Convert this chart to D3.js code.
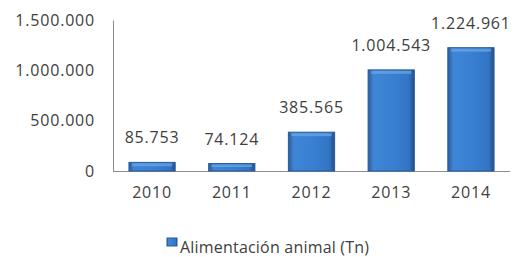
<!DOCTYPE html>
<html>
<head>
<meta charset="utf-8"/>
<script src="https://d3js.org/d3.v7.min.js"></script>
<style>
body { margin: 0; background: #fff; }
text { font-family: "Open Sans", sans-serif; fill: #404040; }
</style>
</head>
<body>
<script>
// chart data
var years = ["2010", "2011", "2012", "2013", "2014"];
var values = [85753, 74124, 385565, 1004543, 1224961];
var yTicks = [0, 500000, 1000000, 1500000];
var seriesName = "Alimentación animal (Tn)";

var width = 513,
    height = 257,
    margin = {top: 20, right: 3, bottom: 86, left: 113};

var fmt = d3.formatLocale({decimal: ",", thousands: ".", grouping: [3], currency: ["", ""]}).format(",d");

var svg = d3.select("body").append("svg")
    .attr("width", width)
    .attr("height", height);

var defs = svg.append("defs");
var grad = defs.append("linearGradient")
    .attr("id", "barGrad")
    .attr("x1", "0%").attr("x2", "100%")
    .attr("y1", "0%").attr("y2", "0%");
grad.append("stop").attr("offset", "0%").attr("stop-color", "#2a5c9e");
grad.append("stop").attr("offset", "12%").attr("stop-color", "#3f86d6");
grad.append("stop").attr("offset", "50%").attr("stop-color", "#3a80d2");
grad.append("stop").attr("offset", "88%").attr("stop-color", "#3275c4");
grad.append("stop").attr("offset", "100%").attr("stop-color", "#234f8c");

var x = d3.scaleBand()
    .domain(years)
    .range([margin.left, width - margin.right])
    .paddingInner(0.42)
    .paddingOuter(0.2);

var y = d3.scaleLinear()
    .domain([0, 1500000])
    .range([height - margin.bottom, margin.top]);

// y axis
var yAxis = svg.append("g")
    .attr("transform", "translate(" + margin.left + ",0)")
    .call(d3.axisLeft(y).tickValues(yTicks).tickFormat(fmt).tickSize(0).tickPadding(18));
yAxis.select(".domain").attr("stroke", "#8c8c8c");
yAxis.selectAll("text")
    .style("font-size", "16px")
    .style("letter-spacing", "0.8px")
    .attr("fill", "#404040");

// x axis
var xAxis = svg.append("g")
    .attr("transform", "translate(0," + y(0) + ")")
    .call(d3.axisBottom(x).tickSize(0).tickPadding(16));
xAxis.select(".domain").attr("stroke", "#8c8c8c")
    .attr("d", "M" + margin.left + ",0.5H" + (width - margin.right));
xAxis.selectAll("text")
    .style("font-size", "16px")
    .style("letter-spacing", "0.8px")
    .attr("fill", "#404040");

// bars
var bars = svg.append("g").selectAll("g")
    .data(values)
    .enter().append("g");

bars.append("rect")
    .attr("x", function(d, i) { return x(years[i]); })
    .attr("y", function(d) { return y(d); })
    .attr("width", x.bandwidth())
    .attr("height", function(d) { return y(0) - y(d); })
    .attr("fill", "url(#barGrad)")
    .attr("stroke", "#2b5b98")
    .attr("stroke-width", 1);

// top bevel highlight
bars.append("rect")
    .attr("x", function(d, i) { return x(years[i]) + 3; })
    .attr("y", function(d) { return y(d) + 1; })
    .attr("width", x.bandwidth() - 6)
    .attr("height", function(d) { return Math.min(3, (y(0) - y(d)) / 3); })
    .attr("fill", "#6ea6e6")
    .attr("opacity", 0.7);

// value labels
bars.append("text")
    .attr("x", function(d, i) { return x(years[i]) + x.bandwidth() / 2; })
    .attr("y", function(d) { return y(d) - 19; })
    .attr("text-anchor", "middle")
    .style("font-size", "16px")
    .style("letter-spacing", "0.8px")
    .text(function(d) { return fmt(d); });

// legend
var legend = svg.append("g").attr("transform", "translate(167,253)");
legend.append("rect")
    .attr("x", 0).attr("y", -15)
    .attr("width", 10).attr("height", 8)
    .attr("fill", "url(#barGrad)")
    .attr("stroke", "#2b5b98");
legend.append("text")
    .attr("x", 13).attr("y", 0)
    .style("font-size", "16px")
    .style("letter-spacing", "0.2px")
    .text(seriesName);
</script>
</body>
</html>
